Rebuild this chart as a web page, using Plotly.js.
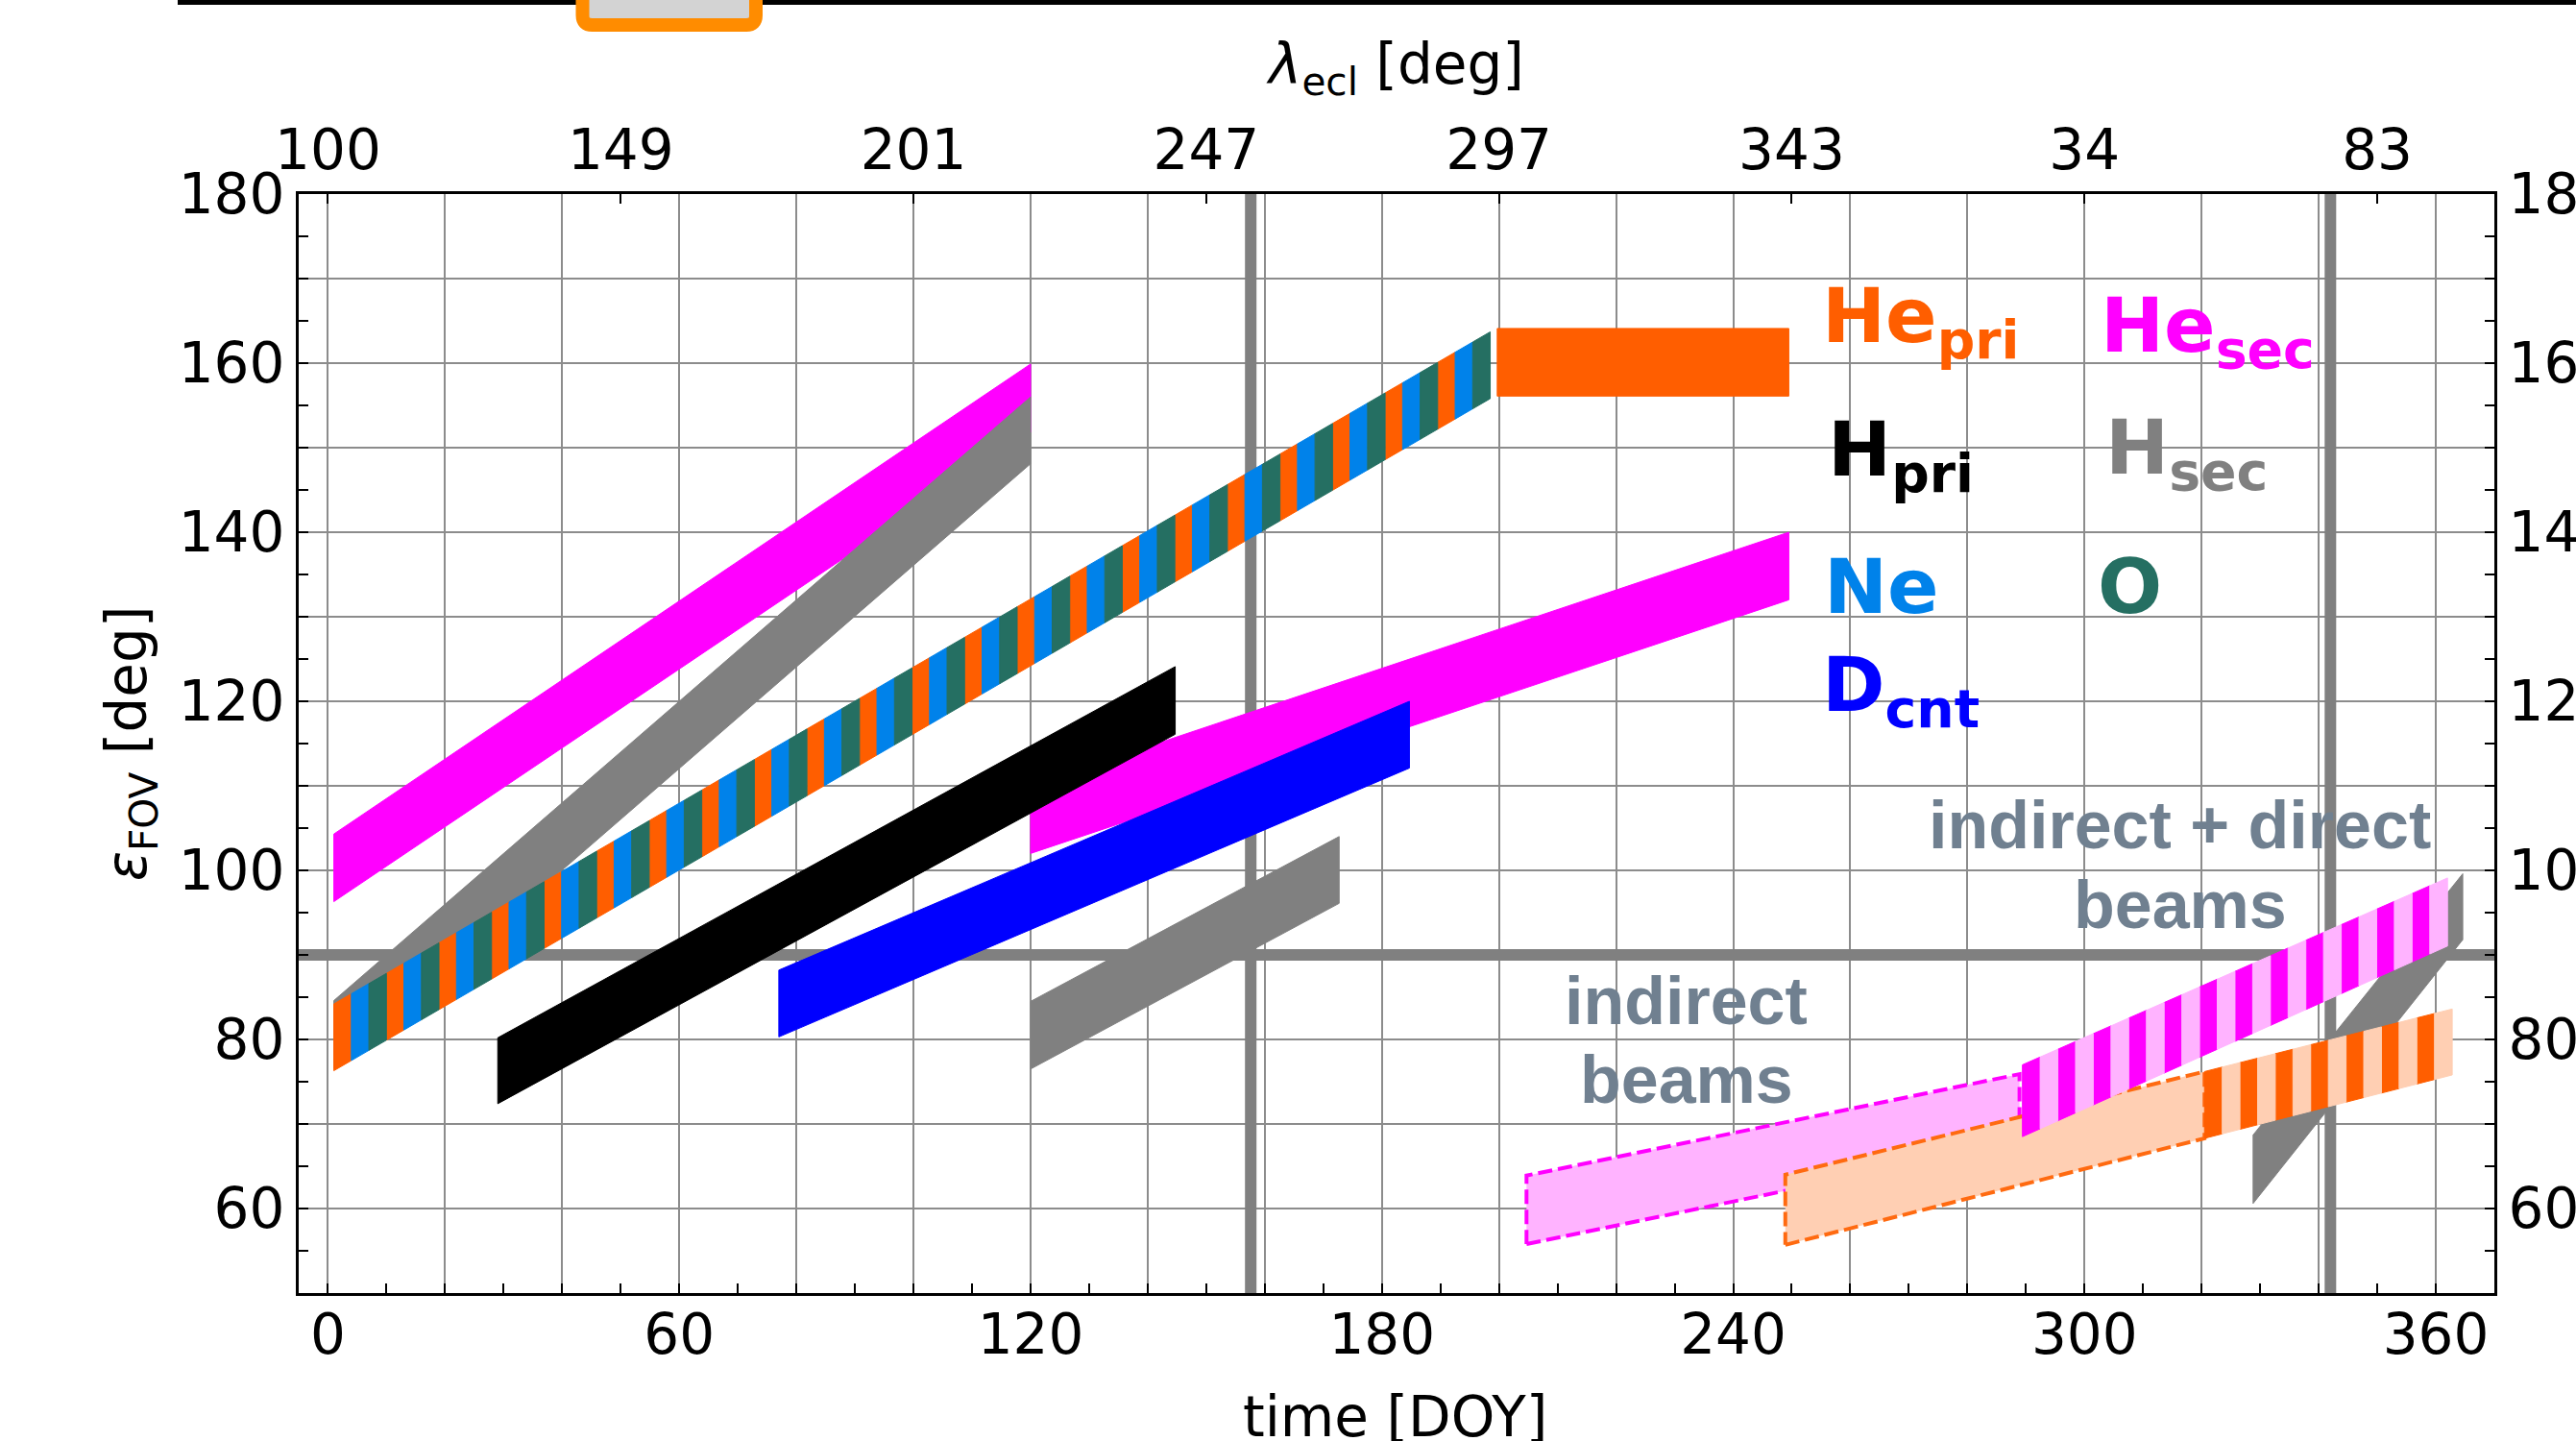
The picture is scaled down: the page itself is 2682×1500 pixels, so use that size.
<!DOCTYPE html>
<html><head><meta charset="utf-8">
<script src="https://cdn.plot.ly/plotly-3.0.1.min.js"></script>
<style>html,body{margin:0;padding:0;background:#fff;overflow:hidden}#chart{width:2682px;height:1500px}</style>
</head><body><div id="chart"></div>
<script>
// ---------------- data ----------------
// each band: start/end DOY, lower/upper epsilon_FOV at start and at end
const bandNames      = ['He_sec', 'H_sec', 'He_pri/Ne/O', 'He_pri', 'He_sec', 'H_pri', 'D_cnt', 'H_sec', 'H_sec',
                        'He_sec indirect', 'He_pri indirect', 'He_sec indirect+direct', 'He_pri indirect+direct'];
const bandStartDOY   = [1,     1,     1,     199.7, 120,   29,    77,    120,   328.8, 204.7, 248.9, 289.4, 320.5];
const bandEndDOY     = [120,   120,   198.5, 249.5, 249.5, 144.7, 184.7, 172.7, 364.6, 288.9, 320.5, 362.0, 362.8];
const bandLowStart   = [96.3,  76.6,  76.3,  156.1, 102.0, 72.4,  80.3,  76.5,  60.6,  55.8,  55.7,  68.5,  68.3];
const bandLowEnd     = [151.8, 148.1, 155.8, 156.1, 132.0, 116.1, 112.1, 96.1,  91.8,  67.8,  68.3,  91.05, 75.8];
const bandHighStart  = [104.3, 84.6,  84.2,  164.1, 110.0, 80.2,  88.2,  84.5,  68.7,  63.9,  64.0,  77.0,  76.2];
const bandHighEnd    = [159.9, 156.0, 163.7, 164.1, 140.0, 124.1, 120.0, 104.0, 99.6,  75.9,  76.2,  99.1,  83.6];
const bandStripeCount= [0,     0,     66,    0,     0,     0,     0,     0,     0,     0,     0,     24,    14];

// reference lines
const refLineDOY = [157.6, 342.0];
const refLineEps = [90];

// axes ticks
const lambdaTickDOY = [0,50,100,150,200,250,300,350];
const lambdaTickTxt = ['100','149','201','247','297','343','34','83'];

// species labels
const speciesLabels = ['He<sub>pri</sub>','He<sub>sec</sub>','H<sub>pri</sub>','H<sub>sec</sub>','Ne','O','D<sub>cnt</sub>'];
const beamLabels = ['indirect','beams','indirect + direct','beams'];

// ---------------- styles ----------------
const C = {orange:'#FF5E00', mag:'#FF00FF', gray:'#808080', black:'#000000', blue:'#0000FF',
           ne:'#0082EA', o:'#256F62', lpink:'#FFB3FF', peach:'#FFCFB3', slate:'#708090'};
const bandFill = [C.mag, C.gray, null, C.orange, C.mag, C.black, C.blue, C.gray, C.gray, C.lpink, C.peach, null, null];
const stripeColors = {2:[C.orange, C.ne, C.o], 11:[C.mag, C.lpink], 12:[C.orange, C.peach]};
const dashedOutline = {9:C.mag, 10:'#FF6A10'};

// ---------------- build traces ----------------
const traces = [];
refLineDOY.forEach(d => traces.push({x:[d,d], y:[50,180], mode:'lines', line:{color:C.gray, width:12}, hoverinfo:'skip', showlegend:false}));
refLineEps.forEach(e => traces.push({x:[-5,370], y:[e,e], mode:'lines', line:{color:C.gray, width:12}, hoverinfo:'skip', showlegend:false}));

function lerp(a,b,t){return a+(b-a)*t;}
bandNames.forEach((name,i) => {
  const x0=bandStartDOY[i], x1=bandEndDOY[i];
  const lo=t=>lerp(bandLowStart[i],bandLowEnd[i],t), hi=t=>lerp(bandHighStart[i],bandHighEnd[i],t);
  if (bandStripeCount[i] > 0) {
    const cols = stripeColors[i], n = bandStripeCount[i];
    cols.forEach((col,c) => {
      const xs=[], ys=[];
      for (let k=0;k<n;k++) {
        if (k % cols.length !== c) continue;
        const t0=k/n, t1=(k+1)/n, xa=lerp(x0,x1,t0), xb=lerp(x0,x1,t1);
        xs.push(xa,xb,xb,xa,xa,null); ys.push(lo(t0),lo(t1),hi(t1),hi(t0),lo(t0),null);
      }
      traces.push({x:xs, y:ys, mode:'lines', fill:'toself', fillcolor:col, line:{color:col, width:1},
                   name:name, hoverinfo:'skip', showlegend:false});
    });
  } else {
    const dashed = dashedOutline[i];
    traces.push({x:[x0,x1,x1,x0,x0], y:[lo(0),lo(1),hi(1),hi(0),lo(0)], mode:'lines', fill:'toself',
                 fillcolor:bandFill[i], name:name, hoverinfo:'skip', showlegend:false,
                 line: dashed ? {color:dashed, width:4, dash:'15px,6px'} : {color:bandFill[i], width:1}});
  }
});
traces.push({x:[null], y:[null], xaxis:'x2', yaxis:'y2', mode:'markers', showlegend:false, hoverinfo:'skip'});

const F = 'DejaVu Sans';
const tickFont = {family:F, size:58, color:'#000'};
const speciesColors = [C.orange, C.mag, C.black, C.gray, C.ne, C.o, C.blue];
const speciesPos = [[254.8,164.9],[302.4,163.8],[255.8,149.2],[303.3,149.4],[255.1,133.5],[301.9,133.5],[254.8,121.3]];
const beamPos = [[232.0,84.6],[232.0,75.2],[316.3,105.3],[316.3,95.95]];

const L=311, R=2597, T=202, B=1346;
const px=v=>(v-L)/(R-L), py=v=>(B-v)/(B-T);

const annotations = [];
speciesLabels.forEach((t,i)=>annotations.push({text:t, x:speciesPos[i][0], y:speciesPos[i][1], xref:'x', yref:'y',
  xanchor:'left', yanchor:'middle', showarrow:false, font:{family:F, size:79, color:speciesColors[i], weight:'bold'}}));
beamLabels.forEach((t,i)=>annotations.push({text:t, x:beamPos[i][0], y:beamPos[i][1], xref:'x', yref:'y',
  xanchor:'center', yanchor:'middle', showarrow:false, font:{family:'Liberation Sans', size:70, color:C.slate, weight:'bold'}}));
// bottom axis title (it runs past the lower edge of the picture, as in the reference)
annotations.push({text:'time [DOY]', xref:'paper', yref:'paper', x:px(1452), y:py(1475), xanchor:'center', yanchor:'middle',
  showarrow:false, font:{family:F, size:58, color:'#000'}});

const boxPath = `M ${px(606.5)},${py(-30)} L ${px(606.5)},${py(16)} Q ${px(606.5)},${py(26)} ${px(616.5)},${py(26)} `+
                `L ${px(777)},${py(26)} Q ${px(787)},${py(26)} ${px(787)},${py(16)} L ${px(787)},${py(-30)} Z`;

const tickCommon = {ticks:'inside', ticklen:10, tickwidth:2, tickcolor:'#000', tickfont:tickFont, zeroline:false,
                    showline:true, linecolor:'#000', linewidth:3, automargin:false};
const layout = {
  width:2682, height:1500, margin:{l:L, r:2682-R, t:T, b:1500-B, pad:0},
  paper_bgcolor:'#fff', plot_bgcolor:'#fff', showlegend:false,
  font:{family:F, color:'#000'},
  xaxis:Object.assign({}, tickCommon, {range:[-5,370], tickmode:'linear', tick0:0, dtick:20, ticklabelstep:3,
         showgrid:true, gridcolor:'#8c8c8c', gridwidth:2, ticklabelstandoff:-10,
         minor:{tickmode:'linear', tick0:0, dtick:10, ticks:'inside', ticklen:10, tickwidth:2, tickcolor:'#000', showgrid:false}}),
  xaxis2:Object.assign({}, tickCommon, {overlaying:'x', side:'top', anchor:'y', range:[-5,370], tickmode:'array',
         tickvals:lambdaTickDOY, ticktext:lambdaTickTxt, showgrid:false,
         title:{text:'<i>λ</i><sub>ecl</sub> [deg]', font:{family:F, size:58, color:'#000'}, standoff:16}}),
  yaxis:Object.assign({}, tickCommon, {range:[50,180], tickmode:'linear', tick0:60, dtick:10, ticklabelstep:2,
         showgrid:true, gridcolor:'#8c8c8c', gridwidth:2,
         minor:{tickmode:'linear', tick0:0, dtick:5, ticks:'inside', ticklen:10, tickwidth:2, tickcolor:'#000', showgrid:false},
         title:{text:'<i>ε</i><sub>FOV</sub> [deg]', font:{family:F, size:58, color:'#000'}, standoff:15}}),
  yaxis2:Object.assign({}, tickCommon, {overlaying:'y', side:'right', anchor:'x', range:[50,180], tickmode:'linear',
         tick0:60, dtick:5, ticklabelstep:4, showgrid:false}),
  annotations:annotations,
  shapes:[
    {type:'line', xref:'paper', yref:'paper', x0:px(185), x1:px(2700), y0:py(2.5), y1:py(2.5), line:{color:'#000', width:5}},
    {type:'path', xref:'paper', yref:'paper', path:boxPath, fillcolor:'#D3D3D3', line:{color:'#FF8C00', width:14}}
  ]
};
Plotly.newPlot('chart', traces, layout, {staticPlot:true, displayModeBar:false});
</script></body></html>
